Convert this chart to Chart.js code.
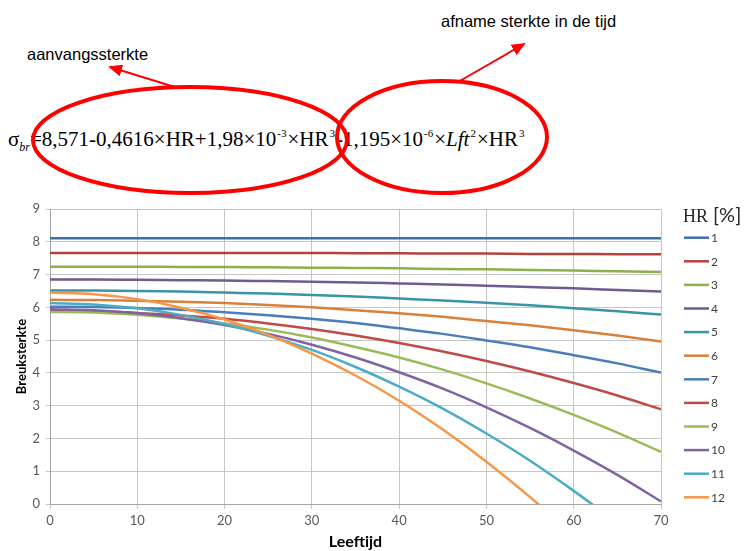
<!DOCTYPE html>
<html>
<head>
<meta charset="utf-8">
<script src="https://cdn.jsdelivr.net/npm/chart.js@4.4.1/dist/chart.umd.min.js"></script>
<style>
  html, body { margin: 0; padding: 0; background: #fff; }
  body { width: 747px; height: 551px; position: relative; overflow: hidden; }
  .note { position: absolute; font-family: "Liberation Sans", Arial, sans-serif; font-size: 16.5px; line-height: 19px; color: #000; white-space: nowrap; }
  #formula { position: absolute; left: 8px; top: 127px; font-family: "Liberation Serif", "Times New Roman", serif; font-size: 21px; color: #000; white-space: nowrap; }
  #formula .sup { position: relative; top: -9px; font-size: 11px; margin: 0 1px; }
  #formula .sub { position: relative; top: 5px; font-size: 12px; font-style: italic; }
  #marks { position: absolute; left: 0; top: 0; }
  #wrap { position: absolute; left: 0; top: 195px; width: 747px; height: 356px; }
</style>
</head>
<body>
<div class="note" style="left:27px; top:45px;">aanvangssterkte</div>
<div class="note" style="left:441px; top:12px;">afname sterkte in de tijd</div>
<div id="formula">σ<span class="sub">br</span>=8,571-0,4616×HR+1,98×10<span class="sup">-3</span>×HR<span class="sup">3</span>-1,195×10<span class="sup">-6</span>×<i>Lft</i><span class="sup">2</span>×HR<span class="sup">3</span></div>
<svg id="marks" width="747" height="200">
  <defs>
    <marker id="head" markerWidth="14" markerHeight="12" refX="12" refY="6" orient="auto" markerUnits="userSpaceOnUse">
      <path d="M0,0 L14,6 L0,12 z" fill="#f00"></path>
    </marker>
  </defs>
  <ellipse cx="190" cy="140" rx="157" ry="53" fill="none" stroke="#f00" stroke-width="4"></ellipse>
  <ellipse cx="442" cy="137" rx="105" ry="56" fill="none" stroke="#f00" stroke-width="4"></ellipse>
  <line x1="178" y1="88" x2="110" y2="67" stroke="#f00" stroke-width="2" marker-end="url(#head)"></line>
  <line x1="458" y1="82" x2="524" y2="44" stroke="#f00" stroke-width="2" marker-end="url(#head)"></line>
</svg>
<div id="wrap"><canvas id="chart"></canvas></div>
<script>
// leeftijd (x) and breuksterkte per HR-klasse
const ages = [0, 5, 10, 15, 20, 25, 30, 35, 40, 45, 50, 55, 60, 65, 70];
const hrLabels = ['1', '2', '3', '4', '5', '6', '7', '8', '9', '10', '11', '12'];

const hr1  = [8.11, 8.11, 8.11, 8.11, 8.11, 8.11, 8.11, 8.11, 8.11, 8.11, 8.11, 8.11, 8.11, 8.11, 8.11];
const hr2  = [7.66, 7.66, 7.66, 7.66, 7.66, 7.66, 7.66, 7.65, 7.65, 7.64, 7.64, 7.63, 7.63, 7.62, 7.62];
const hr3  = [7.24, 7.24, 7.24, 7.23, 7.23, 7.22, 7.21, 7.20, 7.19, 7.17, 7.16, 7.14, 7.12, 7.10, 7.08];
const hr4  = [6.85, 6.85, 6.84, 6.83, 6.82, 6.80, 6.78, 6.76, 6.73, 6.70, 6.66, 6.62, 6.58, 6.53, 6.48];
const hr5  = [6.51, 6.51, 6.50, 6.48, 6.45, 6.42, 6.38, 6.33, 6.27, 6.21, 6.14, 6.06, 5.97, 5.88, 5.78];
const hr6  = [6.23, 6.22, 6.20, 6.17, 6.13, 6.07, 6.00, 5.91, 5.82, 5.71, 5.58, 5.45, 5.30, 5.14, 4.96];
const hr7  = [6.02, 6.01, 5.98, 5.93, 5.85, 5.76, 5.65, 5.52, 5.36, 5.19, 4.99, 4.78, 4.54, 4.29, 4.01];
const hr8  = [5.89, 5.88, 5.83, 5.75, 5.65, 5.51, 5.34, 5.14, 4.91, 4.65, 4.36, 4.04, 3.69, 3.31, 2.89];
const hr9  = [5.86, 5.84, 5.77, 5.66, 5.51, 5.32, 5.08, 4.79, 4.47, 4.10, 3.68, 3.22, 2.72, 2.18, 1.59];
const hr10 = [5.94, 5.91, 5.82, 5.67, 5.46, 5.19, 4.86, 4.47, 4.02, 3.52, 2.95, 2.32, 1.63, 0.89, 0.08];
const hr11 = [6.13, 6.09, 5.97, 5.77, 5.49, 5.13, 4.70, 4.18, 3.58, 2.91, 2.15, 1.32, 0.40, -0.59, -1.66];
const hr12 = [6.45, 6.40, 6.25, 5.99, 5.63, 5.16, 4.59, 3.92, 3.15, 2.27, 1.29, 0.21, -0.98, -2.27, -3.67];

const series = [hr1, hr2, hr3, hr4, hr5, hr6, hr7, hr8, hr9, hr10, hr11, hr12];
const colors = ['#3F6FAA', '#B4433F', '#8FAE4C', '#705A92', '#3894A6', '#D9813A',
                '#4A7EBB', '#BE4B48', '#9BBB59', '#8064A2', '#4BACC6', '#F79646'];

const textGrey = '#595959';
const gridGrey = '#C6C6C6';
const bodyFont = 'Lato, "Open Sans", sans-serif';

// legend in the right margin, drawn the Excel way
const hrLegend = {
  id: 'hrLegend',
  afterDraw(chart) {
    const ctx = chart.ctx;
    ctx.save();
    ctx.textBaseline = 'middle';
    ctx.fillStyle = '#262626';
    ctx.font = '18px "Liberation Serif", serif';
    ctx.fillText('HR', 683, 22);
    ctx.font = '20px ' + bodyFont;
    ctx.fillText('[%]', 713, 21);
    chart.data.datasets.forEach((ds, i) => {
      const y = 42.7 + i * 23.6;
      ctx.strokeStyle = ds.borderColor;
      ctx.lineWidth = 2.5;
      ctx.beginPath();
      ctx.moveTo(684, y);
      ctx.lineTo(709, y);
      ctx.stroke();
      ctx.font = '12px ' + bodyFont;
      ctx.fillStyle = '#404040';
      ctx.fillText(ds.label, 711, y + 0.5);
    });
    ctx.restore();
  }
};

const datasets = series.map((vals, i) => ({
  label: hrLabels[i],
  data: ages.map((a, j) => ({ x: a, y: vals[j] })),
  borderColor: colors[i],
  backgroundColor: colors[i],
  borderWidth: 2.5,
  pointRadius: 0,
  cubicInterpolationMode: 'monotone',
  order: series.length - i,
}));

new Chart(document.getElementById('chart'), {
  type: 'line',
  data: { datasets },
  plugins: [hrLegend],
  options: {
    responsive: true,
    maintainAspectRatio: false,
    animation: false,
    layout: { padding: { top: 14, right: 86, left: 0, bottom: 0 } },
    plugins: {
      legend: { display: false },
      tooltip: { enabled: false },
    },
    scales: {
      x: {
        type: 'linear',
        min: 0,
        max: 70,
        afterFit: (scale) => { scale.height = 47; },
        border: { color: '#A6A6A6', width: 1 },
        grid: { color: gridGrey, tickLength: 5, lineWidth: 1 },
        ticks: { stepSize: 10, padding: 4, color: textGrey, font: { family: bodyFont, size: 13 } },
        title: {
          display: true,
          text: 'Leeftijd',
          color: '#000',
          font: { family: bodyFont, size: 16, weight: 'bold' },
          padding: { top: 0, bottom: 0 },
        },
      },
      y: {
        min: 0,
        max: 9,
        afterFit: (scale) => { scale.width = 50; },
        border: { color: '#A6A6A6', width: 1 },
        grid: { color: gridGrey, tickLength: 4, lineWidth: 1 },
        ticks: { stepSize: 1, padding: 6, color: textGrey, font: { family: bodyFont, size: 13 } },
        title: {
          display: true,
          text: 'Breuksterkte',
          color: '#000',
          font: { family: bodyFont, size: 13, weight: 'bold' },
          padding: { top: 14, bottom: 0 },
        },
      },
    },
  },
});
</script>
</body>
</html>
